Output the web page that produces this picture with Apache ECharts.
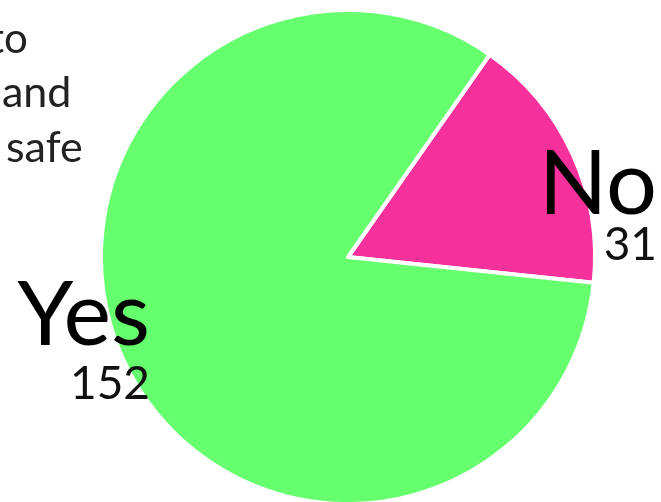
<!DOCTYPE html>
<html><head><meta charset="utf-8">
<script src="https://cdn.jsdelivr.net/npm/echarts@6/dist/echarts.min.js"></script>
<style>html,body{margin:0;padding:0;background:#fff}#c{width:661px;height:502px}</style>
</head><body><div id="c"></div>
<script>
const categories = ['No', 'Yes'];
const values = [31, 152];
const colors = ['#f7319b', '#66ff6e'];
const titleLines = ['to', 'and', 'safe'];

const chart = echarts.init(document.getElementById('c'));
const FONT = 'Lato, "Open Sans", sans-serif';
const labelAnchors = [
  { x: 657, y: 230, dy: 38 },
  { x: 150, y: 361, dy: 46 }
];
const labelGraphics = [];
categories.forEach((c, i) => {
  const a = labelAnchors[i];
  labelGraphics.push({ type: 'text', z: 100, x: a.x, y: a.y, style: { text: c, font: '90px ' + FONT, fill: '#000', textAlign: 'right', textVerticalAlign: 'bottom' } });
  labelGraphics.push({ type: 'text', z: 100, x: a.x, y: a.y + a.dy, style: { text: String(values[i]), font: '46px ' + FONT, fill: '#111', textAlign: 'right', textVerticalAlign: 'bottom' } });
});
chart.setOption({
  animation: false,
  graphic: [
    { type: 'text', z: 100, x: -11, y: 60, style: { text: titleLines[0], font: '42px ' + FONT, fill: '#222', textVerticalAlign: 'bottom' } },
    { type: 'text', z: 100, x: 2, y: 115, style: { text: titleLines[1], font: '43px ' + FONT, fill: '#222', textVerticalAlign: 'bottom' } },
    { type: 'text', z: 100, x: 6, y: 170, style: { text: titleLines[2], font: '43px ' + FONT, fill: '#222', textVerticalAlign: 'bottom' } }
  ].concat(labelGraphics),
  series: [{
    type: 'pie',
    z: 1,
    center: [348, 257],
    radius: 247,
    startAngle: 55,
    clockwise: true,
    itemStyle: { borderColor: '#fff', borderWidth: 4 },
    data: categories.map((c, i) => ({ name: c, value: values[i], itemStyle: { color: colors[i] } })),
    label: { show: false },
    labelLine: { show: false }
  }]
});
</script></body></html>
